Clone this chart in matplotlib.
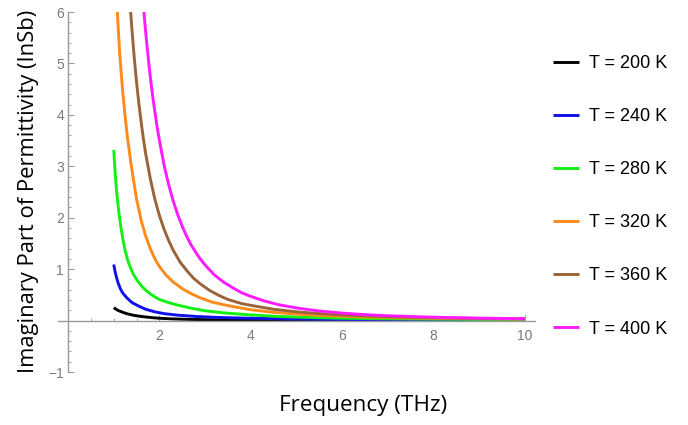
import matplotlib
matplotlib.use("Agg")
import matplotlib.pyplot as plt
from matplotlib.ticker import MultipleLocator, FixedLocator

# ---- data (frequency in THz, imaginary permittivity) ----
f_200 = [1.0, 1.05, 1.1, 1.2, 1.3, 1.45, 1.6, 1.8, 2.0, 2.3, 2.7, 3.2, 4.0, 5.0, 6.0, 8.0, 10.0]
v_200 = [0.25, 0.22, 0.195, 0.16, 0.13, 0.10, 0.08, 0.06, 0.045, 0.032, 0.022, 0.015, 0.010, 0.007, 0.005, 0.003, 0.002]

f_240 = [1.0, 1.03, 1.06, 1.1, 1.15, 1.2, 1.3, 1.4, 1.55, 1.7, 1.9, 2.1, 2.4, 2.8, 3.3, 4.0, 5.0, 6.0, 8.0, 10.0]
v_240 = [1.09, 0.95, 0.84, 0.72, 0.61, 0.53, 0.43, 0.35, 0.28, 0.22, 0.17, 0.135, 0.105, 0.08, 0.06, 0.045, 0.03, 0.022, 0.014, 0.01]

f_280 = [1.0, 1.02, 1.04, 1.06, 1.08, 1.1, 1.13, 1.16, 1.2, 1.25, 1.3, 1.36, 1.43, 1.5, 1.6, 1.7, 1.8, 1.9,
         2.0, 2.2, 2.4, 2.7, 3.0, 3.4, 4.0, 4.6, 5.3, 6.0, 7.0, 8.0, 9.0, 10.0]
v_280 = [3.32, 3.02, 2.76, 2.55, 2.36, 2.20, 1.98, 1.80, 1.58, 1.36, 1.19, 1.04, 0.90, 0.80, 0.68, 0.59, 0.52, 0.46,
         0.41, 0.35, 0.30, 0.24, 0.19, 0.15, 0.11, 0.08, 0.06, 0.045, 0.035, 0.028, 0.023, 0.02]

f_320 = [1.08, 1.1, 1.13, 1.16, 1.2, 1.25, 1.3, 1.37, 1.43, 1.5, 1.6, 1.7, 1.8, 1.9, 2.0, 2.15, 2.3, 2.5,
         2.7, 2.9, 3.15, 3.5, 4.0, 4.5, 5.1, 5.8, 6.5, 7.5, 8.5, 10.0]
v_320 = [6.0, 5.66, 5.20, 4.85, 4.42, 3.97, 3.56, 3.10, 2.75, 2.36, 1.95, 1.64, 1.40, 1.20, 1.05, 0.88, 0.75, 0.62,
         0.52, 0.44, 0.36, 0.29, 0.21, 0.16, 0.12, 0.09, 0.07, 0.05, 0.04, 0.03]

f_360 = [1.37, 1.4, 1.45, 1.5, 1.55, 1.6, 1.65, 1.7, 1.8, 1.9, 2.0, 2.1, 2.2, 2.3, 2.45, 2.6, 2.75, 2.9,
         3.1, 3.3, 3.5, 3.8, 4.1, 4.5, 5.0, 5.5, 6.0, 7.0, 8.0, 9.0, 10.0]
v_360 = [6.0, 5.64, 5.10, 4.63, 4.22, 3.86, 3.53, 3.24, 2.76, 2.36, 2.04, 1.78, 1.56, 1.37, 1.14, 0.97, 0.82, 0.71,
         0.585, 0.49, 0.41, 0.33, 0.28, 0.22, 0.17, 0.135, 0.11, 0.075, 0.055, 0.042, 0.033]

f_400 = [1.66, 1.7, 1.75, 1.8, 1.85, 1.9, 1.95, 2.0, 2.1, 2.2, 2.3, 2.4, 2.5, 2.6, 2.7, 2.8, 2.9, 3.0,
         3.2, 3.4, 3.6, 3.8, 4.0, 4.3, 4.6, 5.0, 5.5, 6.0, 6.5, 7.0, 8.0, 9.0, 10.0]
v_400 = [6.0, 5.60, 5.15, 4.74, 4.38, 4.06, 3.76, 3.50, 3.03, 2.65, 2.33, 2.06, 1.83, 1.63, 1.46, 1.32, 1.19, 1.08,
         0.89, 0.75, 0.64, 0.54, 0.47, 0.38, 0.31, 0.245, 0.186, 0.145, 0.115, 0.093, 0.065, 0.047, 0.036]

labels = ["T = 200 K", "T = 240 K", "T = 280 K", "T = 320 K", "T = 360 K", "T = 400 K"]
colors = ["#000000", "#1010ee", "#14f014", "#ff8a1c", "#9a6438", "#ff1aff"]
series = [(f_200, v_200), (f_240, v_240), (f_280, v_280),
          (f_320, v_320), (f_360, v_360), (f_400, v_400)]

x_major = [2, 4, 6, 8, 10]
y_major = [-1, 1, 2, 3, 4, 5, 6]

# ---- figure ----
W, H = 688, 425
fig = plt.figure(figsize=(W / 100, H / 100), dpi=100)
fig.patch.set_facecolor("white")

left_px, right_px = 58, 535
top_px, bot_px = 12, 372
ax = fig.add_axes([left_px / W, 1 - bot_px / H, (right_px - left_px) / W, (bot_px - top_px) / H])
ax.set_xlim(-0.22, 10.22)
ax.set_ylim(-1.0, 6.0)

lines = []
for (fx, vy), c, lab in zip(series, colors, labels):
    ln, = ax.plot(fx, vy, color=c, lw=2.1, label=lab, solid_capstyle="butt",
                  solid_joinstyle="round")
    lines.append(ln)

axis_gray = "#9a9a9a"
ax.spines["top"].set_visible(False)
ax.spines["right"].set_visible(False)
ax.spines["left"].set_position(("data", 0))
ax.spines["bottom"].set_position(("data", 0))
ax.spines["left"].set_bounds(-1, 6)
for s in ("left", "bottom"):
    ax.spines[s].set_color(axis_gray)
    ax.spines[s].set_linewidth(1.0)

ax.xaxis.set_major_locator(FixedLocator(x_major))
ax.xaxis.set_minor_locator(MultipleLocator(0.5))
ax.yaxis.set_major_locator(FixedLocator(y_major))
ax.yaxis.set_minor_locator(MultipleLocator(0.2))
ax.set_xticklabels([str(v) for v in x_major])
ax.set_yticklabels([("\u2212" + str(-v)) if v < 0 else str(v) for v in y_major])

ax.tick_params(axis="both", which="major", direction="in", length=4, width=0.8,
               color=axis_gray, labelcolor="#7a7a7a", labelsize=10)
ax.tick_params(axis="both", which="minor", direction="in", length=2.2, width=0.6,
               color=axis_gray)
ax.tick_params(axis="x", which="major", pad=6)
ax.tick_params(axis="y", which="major", pad=3)
for t in ax.get_xticklabels() + ax.get_yticklabels():
    t.set_fontfamily("Liberation Sans")

# axis labels
fig.text(29 / W, 1 - 191 / H, "Imaginary Part of Permittivity (InSb)", rotation=90,
         ha="center", va="center", fontsize=15.8, family="Open Sans", color="black")
fig.text(363 / W, 1 - 405 / H, "Frequency (THz)", ha="center", va="center",
         fontsize=16.2, family="Open Sans", color="black")

# legend
leg = fig.legend(handles=lines, labels=labels, loc="upper left",
                 bbox_to_anchor=(553 / W, 1 - 55 / H), frameon=False,
                 prop={"family": "Liberation Sans", "size": 13},
                 handlelength=1.45, handletextpad=0.55, labelspacing=2.0,
                 borderpad=0, borderaxespad=0)

fig.savefig("out.png", dpi=100, facecolor="white")
